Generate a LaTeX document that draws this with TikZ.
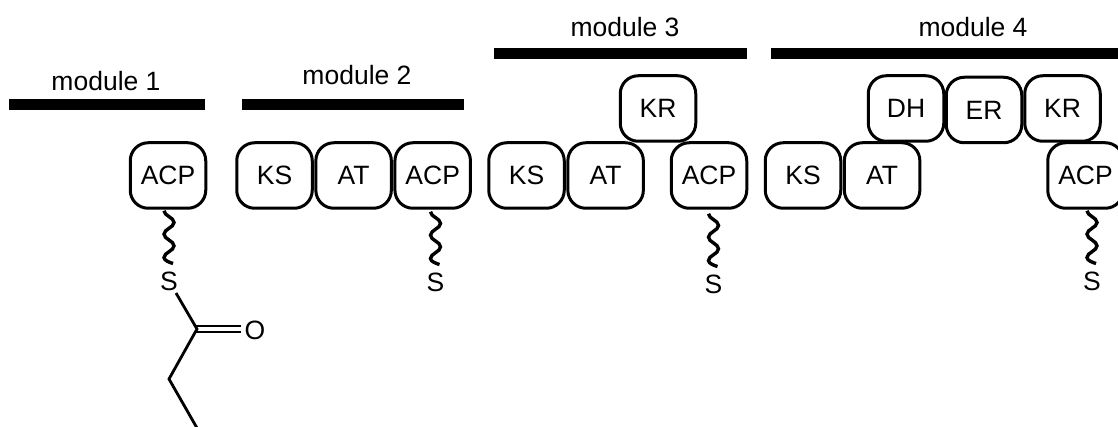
\documentclass[tikz,border=0pt]{standalone}
\usepackage{fontspec}
\setmainfont{Liberation Sans}
\usetikzlibrary{positioning}

\begin{document}
\begin{tikzpicture}[x=1pt,y=-1pt,every node/.style={font=\fontsize{26.5}{30}\selectfont},domainbox/.style={draw, line width=3pt, rounded corners=18pt, minimum width=75.5pt, minimum height=65.5pt, inner sep=0pt},modbar/.style={fill=black, minimum height=11pt, inner sep=0pt},modlabel/.style={inner sep=0pt, text height=19pt, text depth=0pt},atom/.style={inner sep=0pt, text height=19pt, text depth=0pt},wavy/.style={line width=3.4pt},bond/.style={line width=2.8pt}]
\useasboundingbox (0,0) rectangle (1118,427);
% module 1
\node[modbar,minimum width=196pt] (bar1) at (107,105) {};
\node[modlabel] (label1) at (106,81) {module 1};
\node[domainbox] (acp1) at (168,175.5) {ACP};
\node[atom] (s1) at (169,281) {S};
\node[atom] (o1) at (255,330) {O};
\coordinate (c1) at (197,329);
\coordinate (c2) at (169,379);
\coordinate (c3) at (197,428);
\coordinate (d1) at (196,326);
\coordinate (d2) at (196,332);
\draw[bond] (s1) ++(7,12) -- (c1) -- (c2) -- (c3);
\draw[bond] (d1) -- ([xshift=-3pt]o1.west |- d1);
\draw[bond] (d2) -- ([xshift=-3pt]o1.west |- d2);
% module 2
\node[modbar,minimum width=222pt] (bar2) at (353,105) {};
\node[modlabel] (label2) at (357,75) {module 2};
\node[domainbox] (ks2) at (274.5,175.5) {KS};
\node[domainbox,right=0.6pt of ks2] (at2) {AT};
\node[domainbox,right=0.6pt of at2] (acp2) {ACP};
\node[atom] (s2) at (435.5,282) {S};
% module 3
\node[modbar,minimum width=253pt] (bar3) at (620.5,54) {};
\node[modlabel] (label3) at (625,27) {module 3};
\node[domainbox] (ks3) at (526.5,175.5) {KS};
\node[domainbox,right=0.6pt of ks3] (at3) {AT};
\node[domainbox] (kr3) at (658,108.5) {KR};
\node[domainbox] (acp3) at (709,175.5) {ACP};
\node[atom] (s3) at (713.5,284) {S};
% module 4
\node[modbar,minimum width=347pt] (bar4) at (944.5,54) {};
\node[modlabel] (label4) at (973,27) {module 4};
\node[domainbox] (ks4) at (803,175.5) {KS};
\node[domainbox,right=0.6pt of ks4] (at4) {AT};
\node[domainbox] (dh4) at (906,108.5) {DH};
\node[domainbox] (er4) at (984,110) {ER};
\node[domainbox] (kr4) at (1062.5,108.5) {KR};
\node[domainbox] (acp4) at (1085.5,175.5) {ACP};
\node[atom] (s4) at (1092,281) {S};
% tethers
\foreach \dom/\atm/\off in {acp1/s1/1,acp2/s2/2,acp3/s3/4,acp4/s4/1}
\draw[wavy] (\dom.south -| \atm) ++(-5,\off) .. controls +(0,5) and +(0,-5) .. ++(10,11.7) .. controls +(0,5) and +(0,-5) .. ++(-10,11.7) .. controls +(0,5) and +(0,-5) .. ++(10,11.7) .. controls +(0,5) and +(0,-5) .. ++(-10,11.7) .. controls +(0,3) and +(-3,-1) .. ++(9,6);
\end{tikzpicture}
\end{document}
